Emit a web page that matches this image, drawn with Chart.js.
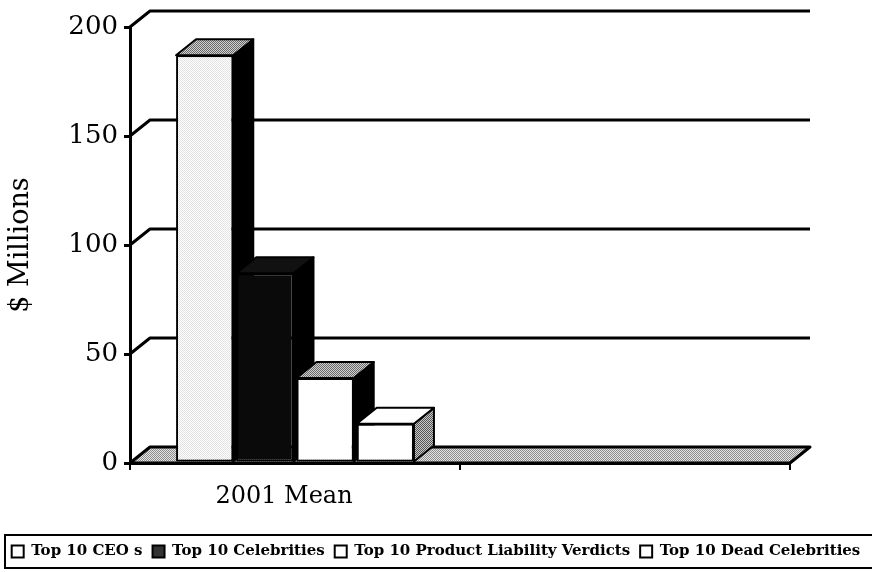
<!DOCTYPE html>
<html>
<head>
<meta charset="utf-8">
<script src="https://cdn.jsdelivr.net/npm/chart.js@4.4.1/dist/chart.umd.min.js"></script>
<style>
  html, body { margin: 0; padding: 0; background: #fff; }
  #wrap { width: 872px; height: 572px; }
</style>
</head>
<body>
<div id="wrap"><canvas id="chart" width="872" height="572"></canvas></div>
<script>
  // data
  const categories = ["2001 Mean", ""];
  const seriesNames = [
    "Top 10 CEO s",
    "Top 10 Celebrities",
    "Top 10 Product Liability Verdicts",
    "Top 10 Dead Celebrities",
  ];
  const ceoValues = [187, null];
  const celebrityValues = [87, null];
  const verdictValues = [39, null];
  const deadCelebrityValues = [18, null];
  const yTicks = [0, 50, 100, 150, 200];

  const SERIF = "'DejaVu Serif', 'Liberation Serif', serif";
  const DX = 20;
  const DY = -16;

  const canvas = document.getElementById("chart");
  const ctx = canvas.getContext("2d");

  const dither = (base, dot) => {
    const c = document.createElement("canvas");
    c.width = 2;
    c.height = 2;
    const g = c.getContext("2d");
    g.fillStyle = base;
    g.fillRect(0, 0, 2, 2);
    g.fillStyle = dot;
    g.fillRect(0, 0, 1, 1);
    g.fillRect(1, 1, 1, 1);
    return ctx.createPattern(c, "repeat");
  };

  const floorFill = dither("#e4e4e4", "#8c8c8c");
  const frontFill = [dither("#ffffff", "#e2e2e2"), "#0a0a0a", "#ffffff", "#ffffff"];
  const topFill = [dither("#d0d0d0", "#6a6a6a"), "#111111", dither("#d0d0d0", "#6a6a6a"), "#ffffff"];
  const sideFill = ["#000000", "#000000", "#000000", dither("#c8c8c8", "#555555")];
  const legendFill = ["#ffffff", "#333333", "#ffffff", "#ffffff"];

  const allValues = [ceoValues, celebrityValues, verdictValues, deadCelebrityValues];

  const poly = (pts, fill) => {
    ctx.beginPath();
    ctx.moveTo(pts[0][0], pts[0][1]);
    for (let k = 1; k < pts.length; k++) ctx.lineTo(pts[k][0], pts[k][1]);
    ctx.closePath();
    if (fill) {
      ctx.fillStyle = fill;
      ctx.fill();
    }
    ctx.stroke();
  };

  const box3d = {
    id: "box3d",
    beforeDatasetsDraw(chart) {
      const { left, right, bottom } = chart.chartArea;
      const y = chart.scales.y;
      ctx.save();
      ctx.strokeStyle = "#000";
      ctx.lineJoin = "round";
      ctx.lineWidth = 3;
      // back wall grid lines, with their run along the left wall
      yTicks.forEach((v) => {
        if (v === 0) return;
        const py = y.getPixelForValue(v);
        ctx.beginPath();
        ctx.moveTo(left, py);
        ctx.lineTo(left + DX, py + DY);
        ctx.lineTo(right + DX, py + DY);
        ctx.stroke();
      });
      // floor
      poly(
        [
          [left, bottom],
          [left + DX, bottom + DY],
          [right + DX, bottom + DY],
          [right, bottom],
        ],
        floorFill,
      );

      // side and top faces, left to right; the fronts come after from Chart.js
      ctx.lineWidth = 2;
      categories.forEach((c, j) => {
        allValues.forEach((vals, i) => {
          if (vals[j] == null) return;
          const bar = chart.getDatasetMeta(i).data[j];
          const p = bar.getProps(["x", "y", "base", "width"], true);
          const x0 = p.x - p.width / 2;
          const x1 = p.x + p.width / 2;
          poly(
            [
              [x1, p.y],
              [x1 + DX, p.y + DY],
              [x1 + DX, p.base + DY],
              [x1, p.base],
            ],
            sideFill[i],
          );
          poly(
            [
              [x0, p.y],
              [x0 + DX, p.y + DY],
              [x1 + DX, p.y + DY],
              [x1, p.y],
            ],
            topFill[i],
          );
        });
      });
      ctx.restore();
    },
    afterDraw(chart) {
      const lg = chart.legend;
      ctx.save();
      ctx.strokeStyle = "#000";
      ctx.lineWidth = 2;
      ctx.beginPath();
      ctx.moveTo(874, lg.top + 1);
      ctx.lineTo(5, lg.top + 1);
      ctx.lineTo(5, lg.bottom - 1);
      ctx.lineTo(874, lg.bottom - 1);
      ctx.stroke();
      ctx.restore();
    },
  };

  const datasets = seriesNames.map((name, i) => ({
    label: name,
    data: allValues[i],
    backgroundColor: frontFill[i],
    borderColor: "#000",
    borderWidth: 2,
    borderSkipped: false,
    categoryPercentage: 0.73,
    barPercentage: 0.95,
  }));

  new Chart(canvas, {
    type: "bar",
    data: { labels: categories, datasets: datasets },
    options: {
      responsive: false,
      animation: false,
      devicePixelRatio: 1,
      layout: { padding: { top: 27, right: 0, bottom: 3, left: 0 } },
      plugins: {
        tooltip: { enabled: false },
        legend: {
          position: "bottom",
          labels: {
            color: "#000",
            font: { family: SERIF, size: 15, weight: "bold" },
            boxWidth: 12,
            boxHeight: 12,
            padding: 10,
            generateLabels(chart) {
              return Chart.defaults.plugins.legend.labels
                .generateLabels(chart)
                .map((item) => {
                  item.fillStyle = legendFill[item.datasetIndex];
                  item.lineWidth = 2;
                  return item;
                });
            },
          },
        },
      },
      scales: {
        x: {
          grid: {
            display: true,
            drawOnChartArea: false,
            drawTicks: true,
            tickLength: 7,
            color: "#000",
            lineWidth: 2,
          },
          border: { display: true, color: "#000", width: 3 },
          ticks: {
            color: "#000",
            font: { family: SERIF, size: 24 },
            padding: 12,
            labelOffset: -11,
          },
          afterFit(s) {
            s.height = 71;
          },
        },
        y: {
          min: 0,
          max: 200,
          afterBuildTicks(s) {
            s.ticks = yTicks.map((v) => ({ value: v }));
          },
          grid: {
            drawOnChartArea: false,
            drawTicks: true,
            tickLength: 6,
            color: "#000",
            lineWidth: 3,
          },
          border: { display: true, color: "#000", width: 3 },
          ticks: {
            color: "#000",
            font: { family: SERIF, size: 26 },
            padding: 6,
          },
          title: {
            display: true,
            text: "$ Millions",
            color: "#000",
            font: { family: SERIF, size: 27 },
            padding: { top: 5 },
          },
          afterFit(s) {
            s.width = 130;
          },
        },
        // blank right-hand strip that holds the depth of the back wall
        depth: {
          position: "right",
          display: true,
          grid: { display: false },
          border: { display: false },
          ticks: { display: false },
          afterFit(s) {
            s.width = 82;
          },
        },
      },
    },
    plugins: [box3d],
  });
</script>
</body>
</html>
